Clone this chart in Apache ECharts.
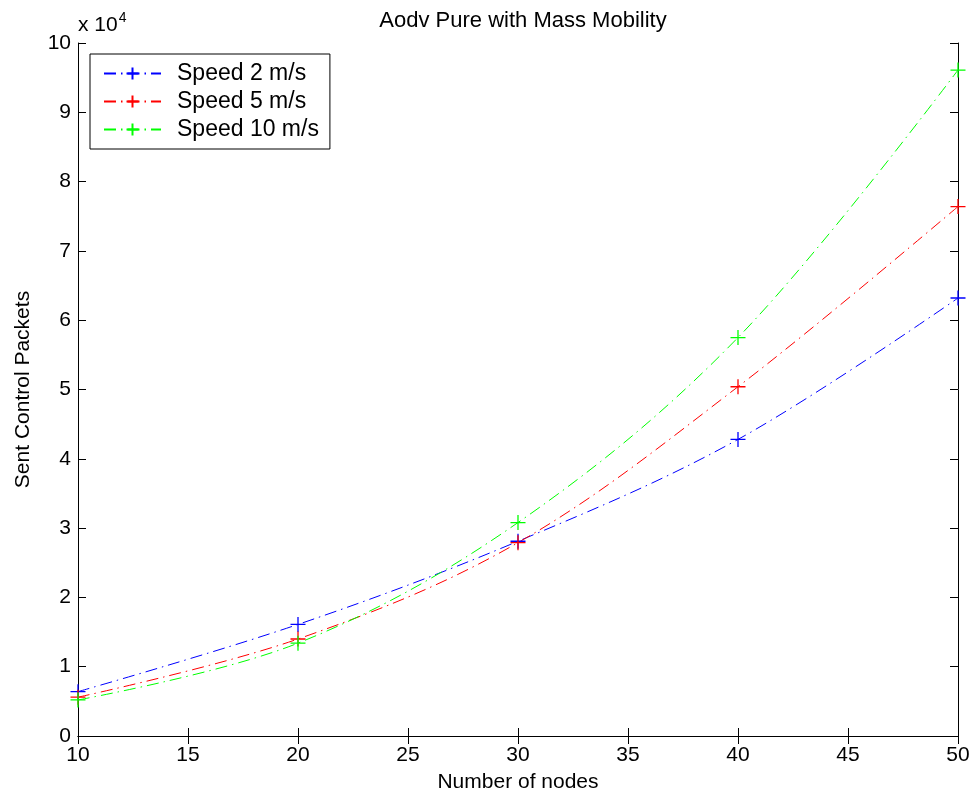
<!DOCTYPE html>
<html>
<head>
<meta charset="utf-8">
<script src="https://cdn.jsdelivr.net/npm/echarts@6/dist/echarts.min.js"></script>
<style>html,body{margin:0;padding:0;background:#fff}#c{width:973px;height:798px}</style>
</head>
<body>
<div id="c"></div>
<script>
const nodes = [10, 20, 30, 40, 50];
const speed2 = [6400, 16100, 28100, 42800, 63200];
const speed5 = [5600, 14000, 27900, 50400, 76400];
const speed10 = [5200, 13400, 30800, 57500, 96100];
const seriesNames = ['Speed 2 m/s', 'Speed 5 m/s', 'Speed 10 m/s'];
const seriesColors = ['#0000ff', '#ff0000', '#00ff00'];
const seriesData = [speed2, speed5, speed10];

const FONT = 'Liberation Sans, Arial, Helvetica, sans-serif';
const chart = echarts.init(document.getElementById('c'), null, {renderer: 'canvas'});
const plus = 'path://M7,0L7,14M0,7L14,7';

const axisCommon = {
  axisLine: {show: true, lineStyle: {color: '#000', width: 1}},
  axisTick: {show: true, inside: true, length: 8, lineStyle: {color: '#000', width: 1}},
  splitLine: {show: false}
};

const series = seriesData.map((d, i) => ({
  name: seriesNames[i],
  type: 'line',
  xAxisIndex: 0,
  yAxisIndex: 0,
  data: nodes.map((x, j) => [x, d[j]]),
  smooth: 0.35,
  symbol: plus,
  symbolSize: 15,
  symbolKeepAspect: true,
  color: seriesColors[i],
  itemStyle: {color: seriesColors[i], borderColor: seriesColors[i], borderWidth: 1.3},
  lineStyle: {color: seriesColors[i], width: 1, type: [12, 5, 1.5, 5]},
  emphasis: {disabled: true},
  animation: false
}));

chart.setOption({
  animation: false,
  backgroundColor: '#fff',
  textStyle: {fontFamily: FONT},
  title: {
    text: 'Aodv Pure with Mass Mobility',
    left: 518, top: 5, textAlign: 'center',
    textStyle: {fontFamily: FONT, fontSize: 22, fontWeight: 'normal', color: '#000'}
  },
  grid: {left: 78, right: 15, top: 43, bottom: 62, containLabel: false},
  legend: {
    left: 90, top: 54, orient: 'vertical',
    data: seriesNames,
    backgroundColor: '#fff',
    borderColor: '#000', borderWidth: 1,
    padding: [8, 11, 8, 13],
    itemGap: 5, itemWidth: 57, itemHeight: 15,
    textStyle: {fontFamily: FONT, fontSize: 23, color: '#000', lineHeight: 22, padding: [0, 0, 0, 11]}
  },
  xAxis: [
    Object.assign({}, axisCommon, {
      type: 'value', min: 10, max: 50, interval: 5, position: 'bottom',
      name: 'Number of nodes', nameLocation: 'middle', nameGap: 36,
      nameTextStyle: {fontFamily: FONT, fontSize: 21, color: '#000'},
      axisLabel: {color: '#000', fontSize: 21, fontFamily: FONT, margin: 9}
    }),
    Object.assign({}, axisCommon, {
      type: 'value', min: 10, max: 50, interval: 5, position: 'top',
      axisLabel: {show: false}
    })
  ],
  yAxis: [
    Object.assign({}, axisCommon, {
      type: 'value', min: 0, max: 100000, interval: 10000, position: 'left',
      name: 'Sent Control Packets', nameLocation: 'middle', nameGap: 44,
      nameTextStyle: {fontFamily: FONT, fontSize: 21, color: '#000'},
      axisLabel: {color: '#000', fontSize: 21, fontFamily: FONT, margin: 7,
        formatter: v => String(Math.round(v / 10000))}
    }),
    Object.assign({}, axisCommon, {
      type: 'value', min: 0, max: 100000, interval: 10000, position: 'right',
      axisLabel: {show: false}
    })
  ],
  graphic: [{
    type: 'text', left: 78, top: 11,
    style: {
      text: '{a|x 10}{b|4}',
      rich: {
        a: {fontFamily: FONT, fontSize: 21, fill: '#000', verticalAlign: 'bottom', lineHeight: 25},
        b: {fontFamily: FONT, fontSize: 14, fill: '#000', verticalAlign: 'top', lineHeight: 25, padding: [0, 0, 10, 1]}
      }
    }
  }],
  series: series
});
</script>
</body>
</html>
